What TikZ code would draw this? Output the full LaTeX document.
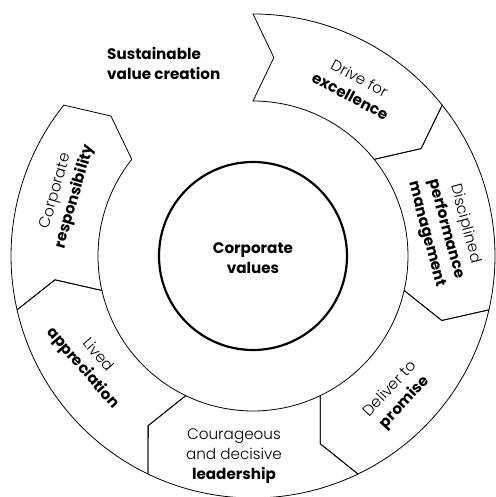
\documentclass[tikz,border=0pt]{standalone}
\usepackage{fontspec}
\setmainfont{Poppins}[UprightFont={* Light}, BoldFont={* Bold}]
\begin{document}
\begin{tikzpicture}[
  seg/.style={draw=black, line width=0.8pt, line join=miter},
  lbl/.style={align=center, inner sep=0pt, font=\fontsize{15.2}{20}\selectfont, text=black},
]
\useasboundingbox (-253pt,-241pt) rectangle (242pt,256pt);
\foreach \a in {90,38.5714,-12.8571,-64.2857,-115.7143,-167.1429} {
  \pgfmathsetmacro\b{\a-51.4286}
  \pgfmathsetmacro\c{\b-6}
  \pgfmathsetmacro\d{\a-6}
  \draw[seg] (\a:242pt) arc[start angle=\a, end angle=\b, radius=242pt]
     -- (\c:199.5pt) -- (\b:155pt) arc[start angle=\b, end angle=\a, radius=155pt]
     -- (\d:199.5pt) -- cycle;
}
\node[draw=black, line width=2.2pt, circle, minimum size=188pt, inner sep=0pt] (core) at (0pt,0pt) {};
\node[lbl] (values) at (0pt,-2pt) {\textbf{Corporate}\\\textbf{values}};
\node[lbl, align=left, anchor=west] (svc) at (-146pt,193pt) {\textbf{Sustainable}\\\textbf{value creation}};
\node[lbl, rotate=-28] (drive) at (102pt,169pt) {Drive for\\\textbf{excellence}};
\node[lbl, rotate=-75] (perf) at (193pt,27pt) {Disciplined\\\textbf{performance}\\\textbf{management}};
\node[lbl, rotate=47] (deliver) at (145pt,-140pt) {Deliver to\\\textbf{promise}};
\node[lbl] (lead) at (-19pt,-200pt) {Courageous\\and decisive\\\textbf{leadership}};
\node[lbl, rotate=-49] (lived) at (-163pt,-106pt) {Lived\\\textbf{appreciation}};
\node[lbl, rotate=74] (resp) at (-187pt,62pt) {Corporate\\\textbf{responsibility}};
\end{tikzpicture}
\end{document}
